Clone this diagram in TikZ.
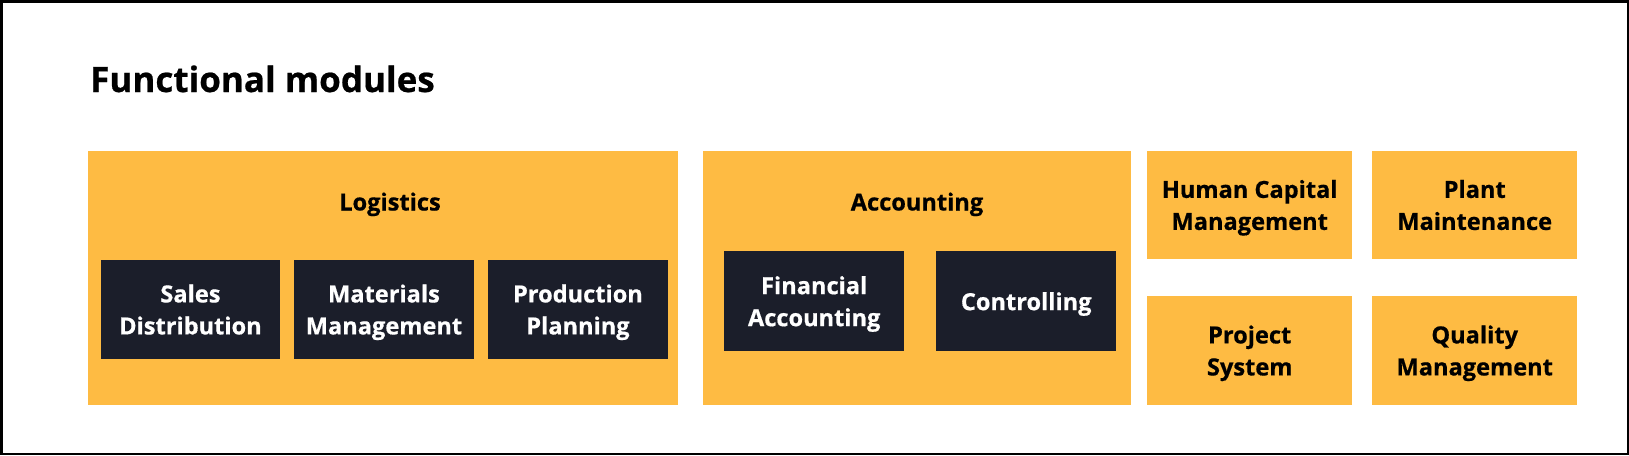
\documentclass[tikz,border=0pt]{standalone}
\usepackage{fontspec}
\setmainfont{Open Sans}[BoldFeatures={FakeBold=0.6}]
\usepackage{xcolor}

\definecolor{modyellow}{RGB}{254,187,67}
\definecolor{modnavy}{RGB}{27,30,42}

\tikzset{
    group/.style={fill=modyellow, inner sep=0pt, anchor=north west},
    sub/.style={fill=modnavy, text=white, inner sep=0pt, anchor=north west,
        align=center, font=\bfseries\fontsize{23.6}{32}\selectfont, text depth=0pt,
        minimum width=179.5pt, minimum height=99.5pt},
    single/.style={group, align=center, font=\bfseries\fontsize{23.6}{32}\selectfont,
        text depth=0pt, minimum width=205pt, minimum height=108.5pt},
    grouptitle/.style={anchor=base, inner sep=0pt, font=\bfseries\fontsize{23.6}{32}\selectfont}
}

\begin{document}
\begin{tikzpicture}[x=1pt, y=-1pt]

\useasboundingbox (0,0) rectangle (1629,455);
\draw[line width=2.5pt] (1.25,1.25) rectangle (1627.75,453.75);

% title
\node[anchor=base west, inner sep=0pt, font=\bfseries\fontsize{35}{42}\selectfont]
    (title) at (90,92) {Functional modules};

% logistics
\node[group, minimum width=590pt, minimum height=254pt] (logistics) at (88,150.5) {};
\node[grouptitle] (logisticsTitle) at (390,210.5) {Logistics};
\node[sub] (sales) at (100.5,259.5) {Sales\\Distribution};
\node[sub] (materials) at (294,259.5) {Materials\\Management};
\node[sub] (production) at (488,259.5) {Production\\Planning};

% accounting
\node[group, minimum width=428pt, minimum height=254pt] (accounting) at (703,150.5) {};
\node[grouptitle] (accountingTitle) at (917,210.5) {Accounting};
\node[sub, minimum width=180pt, minimum height=100pt] (financial) at (724,251) {Financial\\Accounting};
\node[sub, minimum width=180pt, minimum height=100pt] (controlling) at (936,251) {Controlling};

% single modules
\node[single] (hcm) at (1147,150.5) {Human Capital\\Management};
\node[single] (plant) at (1372,150.5) {Plant\\Maintenance};
\node[single] (project) at (1147,296) {Project\\System};
\node[single] (quality) at (1372,296) {Quality\\Management};

\end{tikzpicture}
\end{document}
